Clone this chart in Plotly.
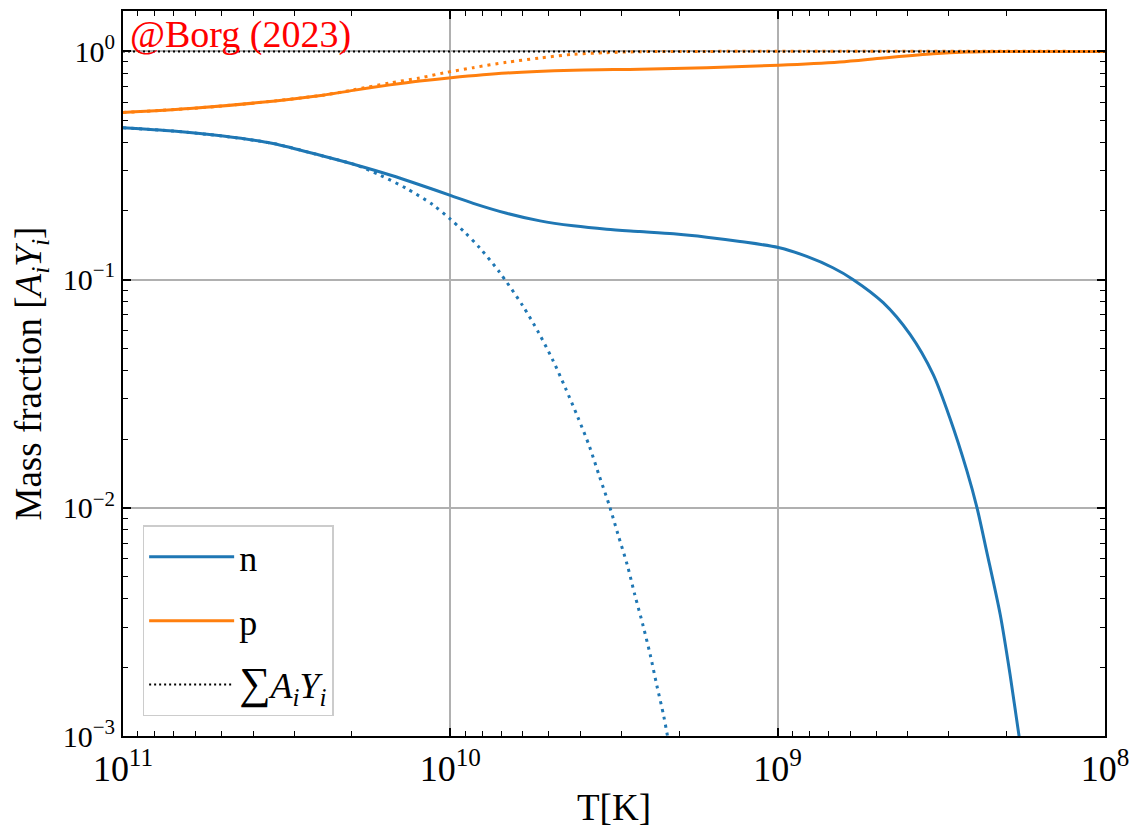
import plotly.graph_objects as go

# ---------------- data ----------------
# neutron mass fraction, full network (solid)
T_n = [1e11, 7.03e10, 4.95e10, 3.48e10, 2.45e10, 1.94e10, 1.528e10, 1.21e10, 9.95e9,
       8.51e9, 6.73e9, 5.32e9, 4.21e9, 3.33e9, 2.64e9, 2.08e9, 1.648e9, 1.303e9,
       9.95e8, 8.15e8, 6.78e8, 5.89e8, 4.76e8, 3.94e8, 3.35e8, 2.98e8, 2.64e8,
       2.46e8, 2.30e8, 2.09e8, 1.95e8, 1.83e8, 1.75e8]
Y_n = [0.4627, 0.4474, 0.4254, 0.3950, 0.3478, 0.3178, 0.2873, 0.2572, 0.2333,
       0.2159, 0.1953, 0.1808, 0.1720, 0.1662, 0.1624, 0.1587, 0.1534, 0.1469,
       0.1382, 0.1263, 0.1127, 0.1002, 0.0792, 0.0575, 0.03841, 0.02481, 0.01448,
       0.0100, 0.00646, 0.003406, 0.001859, 0.000998, 0.000674]

# neutron mass fraction, equilibrium (dotted)
T_nd = [1e11, 7.03e10, 4.95e10, 3.48e10, 2.45e10, 1.94e10, 1.644e10, 1.363e10,
        1.129e10, 1.002e10, 9.02e9, 8.15e9, 7.10e9, 6.01e9, 5.38e9, 4.86e9, 4.45e9,
        4.08e9, 3.76e9, 3.51e9, 3.27e9, 3.07e9, 2.88e9, 2.73e9, 2.58e9, 2.45e9,
        2.34e9, 2.23e9, 2.17e9, 2.10e9]
Y_nd = [0.4627, 0.4474, 0.4254, 0.3950, 0.3478, 0.3178, 0.2873, 0.2511,
        0.2125, 0.1845, 0.1608, 0.1382, 0.1085, 0.0768, 0.0587, 0.0443, 0.03345,
        0.02498, 0.01861, 0.01384, 0.01026, 0.00759, 0.00561, 0.004145, 0.003062,
        0.002264, 0.001667, 0.001228, 0.000999, 0.000785]

# proton mass fraction, full network (solid)
T_p = [1e11, 6.25e10, 3.92e10, 2.45e10, 1.98e10, 1.528e10, 1.24e10, 9.95e9, 6.73e9,
       4.21e9, 2.64e9, 1.648e9, 9.95e8, 6.46e8, 4.76e8, 3.35e8, 2.64e8, 2.09e8, 1e8]
Y_p = [0.5396, 0.5617, 0.5949, 0.6429, 0.6748, 0.7132, 0.7420, 0.7673, 0.8043,
       0.8269, 0.8351, 0.8487, 0.8694, 0.8988, 0.9358, 0.9770, 0.994, 1.0, 1.0]

# proton mass fraction, equilibrium (dotted)
T_pd = [1e11, 6.25e10, 3.92e10, 2.45e10, 1.98e10, 1.528e10, 1.24e10, 1.05e10,
        8.51e9, 6.73e9, 5.32e9, 4.21e9, 3.33e9, 2.64e9, 1.648e9, 1e8]
Y_pd = [0.5396, 0.5617, 0.5949, 0.6429, 0.6780, 0.7276, 0.765, 0.8043,
        0.8487, 0.8961, 0.9358, 0.9712, 0.987, 0.997, 1.0, 1.0]

# sum of mass fractions
T_sum = [1e11, 1e8]
Y_sum = [1.0, 1.0]

x_tickvals = [1e11, 1e10, 1e9, 1e8]
x_ticktext = ["10<sup>11</sup>", "10<sup>10</sup>", "10<sup>9</sup>", "10<sup>8</sup>"]
y_tickvals = [1e-3, 1e-2, 1e-1, 1e0]
y_ticktext = ["10<sup>−3</sup>", "10<sup>−2</sup>", "10<sup>−1</sup>", "10<sup>0</sup>"]

BLUE = "#1f77b4"
ORANGE = "#ff7f0e"
FONT = "Liberation Serif"

fig = go.Figure()
fig.add_trace(go.Scatter(x=T_n, y=Y_n, mode="lines", name="n", legendgroup="a",
                         line=dict(color=BLUE, width=3, shape="spline", smoothing=0.8)))
fig.add_trace(go.Scatter(x=T_p, y=Y_p, mode="lines", name="p", legendgroup="b",
                         line=dict(color=ORANGE, width=3, shape="spline", smoothing=0.8)))
fig.add_trace(go.Scatter(x=T_nd, y=Y_nd, mode="lines", name="n (eq)", showlegend=False,
                         line=dict(color=BLUE, width=3, dash="3px,5px",
                                   shape="spline", smoothing=0.8)))
fig.add_trace(go.Scatter(x=T_pd, y=Y_pd, mode="lines", name="p (eq)", showlegend=False,
                         line=dict(color=ORANGE, width=3, dash="3px,5px",
                                   shape="spline", smoothing=0.8)))
fig.add_trace(go.Scatter(x=T_sum, y=Y_sum, mode="lines", legendgroup="c",
                         name="<span style='font-size:44px'>∑</span><i>A<sub>i</sub>Y<sub>i</sub></i>",
                         line=dict(color="black", width=2, dash="2px,3px")))

axis_common = dict(
    type="log", showline=True, linecolor="black", linewidth=2, mirror="allticks",
    ticks="inside", ticklen=8, tickwidth=1.5, tickcolor="black",
    showgrid=True, gridcolor="#b0b0b0", gridwidth=1.5, zeroline=False,
    minor=dict(ticks="inside", ticklen=5, tickwidth=1, tickcolor="black",
               dtick="D1", showgrid=False),
)

fig.update_xaxes(**axis_common, range=[11, 8], tickmode="array",
                 tickvals=x_tickvals, ticktext=x_ticktext,
                 tickfont=dict(family=FONT, size=36, color="black"),
                 title=dict(text="T[K]", font=dict(family=FONT, size=37, color="black"),
                            standoff=6))
fig.update_yaxes(**axis_common, range=[-3, 0.177], tickmode="array",
                 tickvals=y_tickvals, ticktext=y_ticktext,
                 tickfont=dict(family=FONT, size=30, color="black"),
                 title=dict(text="Mass fraction [<i>A<sub>i</sub>Y<sub>i</sub></i>]",
                            font=dict(family=FONT, size=37, color="black"), standoff=10))

fig.add_annotation(x=0.005, y=1.0, xref="paper", yref="paper", xanchor="left", yanchor="top",
                   text="@Borg (2023)", showarrow=False,
                   font=dict(family=FONT, size=38, color="red"))

# the page body has an 8px margin, so the figure is sized to fit the 1141x829 window
fig.update_layout(
    width=1133, height=821,
    margin=dict(l=115, r=36, t=1, b=93),
    plot_bgcolor="white", paper_bgcolor="white",
    font=dict(family=FONT, color="black"),
    legend=dict(x=0.02, y=0.027, xanchor="left", yanchor="bottom",
                bgcolor="rgba(255,255,255,0.8)", bordercolor="#cccccc", borderwidth=1.5,
                font=dict(family=FONT, size=36, color="black"),
                tracegroupgap=14, itemwidth=85),
)

fig.write_html("out.html")
